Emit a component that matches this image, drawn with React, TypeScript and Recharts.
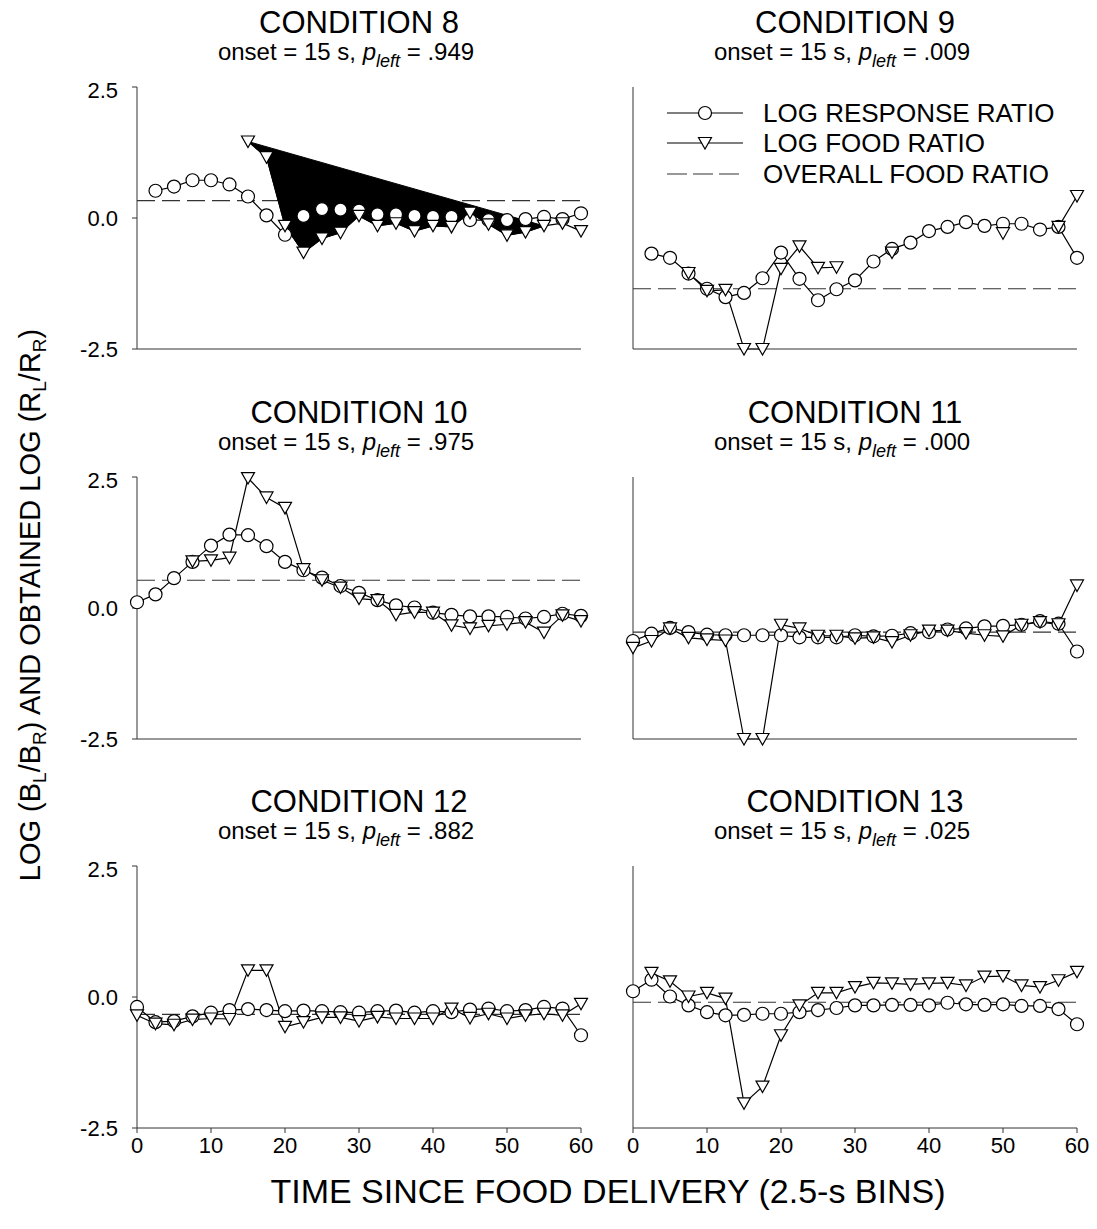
import React from 'react'
import { LineChart, Line, XAxis, YAxis, ReferenceLine } from 'recharts'

// time since food delivery, 2.5-s bins
const bins = [0, 2.5, 5, 7.5, 10, 12.5, 15, 17.5, 20, 22.5, 25, 27.5, 30, 32.5, 35, 37.5, 40, 42.5, 45, 47.5, 50, 52.5, 55, 57.5, 60]

const titles = ['CONDITION 8', 'CONDITION 9', 'CONDITION 10', 'CONDITION 11', 'CONDITION 12', 'CONDITION 13']
const onsets = ['15', '15', '15', '15', '15', '15']
const pLeft = ['.949', '.009', '.975', '.000', '.882', '.025']
const overallFoodRatio = [0.33, -1.35, 0.53, -0.46, -0.33, -0.1]

const response8 = [null, 0.52, 0.6, 0.72, 0.72, 0.64, 0.41, 0.05, -0.32, 0.04, 0.17, 0.16, 0.14, 0.07, 0.07, 0.04, 0.02, 0.02, -0.04, -0.04, -0.04, -0.02, 0.02, -0.02, 0.09]
const food8 = [null, null, null, null, null, null, 1.46, 1.16, -0.15, -0.66, -0.39, -0.28, 0.04, -0.15, -0.1, -0.25, -0.15, -0.17, 0.1, -0.12, -0.33, -0.27, -0.15, -0.1, -0.25]

const response9 = [null, -0.68, -0.76, -1.06, -1.35, -1.51, -1.43, -1.15, -0.66, -1.16, -1.57, -1.36, -1.19, -0.83, -0.59, -0.47, -0.25, -0.17, -0.08, -0.15, -0.11, -0.11, -0.22, -0.17, -0.76]
const food9 = [null, null, null, -1.05, -1.39, -1.37, -2.5, -2.5, -0.97, -0.54, -0.95, -0.94, null, null, -0.66, null, null, null, null, null, -0.29, null, null, -0.17, 0.42]

const response10 = [0.11, 0.26, 0.57, 0.88, 1.19, 1.4, 1.39, 1.18, 0.88, 0.72, 0.58, 0.42, 0.29, 0.15, 0.05, 0.01, -0.09, -0.13, -0.16, -0.16, -0.17, -0.2, -0.17, -0.11, -0.15]
const food10 = [null, null, null, 0.89, 0.91, 0.96, 2.48, 2.11, 1.91, 0.74, 0.53, 0.39, 0.18, 0.15, -0.13, -0.08, -0.09, -0.33, -0.39, -0.34, -0.31, -0.27, -0.47, -0.14, -0.25]

const response11 = [-0.63, -0.49, -0.38, -0.46, -0.51, -0.52, -0.52, -0.52, -0.52, -0.56, -0.56, -0.56, -0.52, -0.54, -0.53, -0.48, -0.46, -0.41, -0.39, -0.35, -0.34, -0.32, -0.25, -0.3, -0.83]
const food11 = [-0.76, -0.63, -0.39, -0.57, -0.6, -0.62, -2.5, -2.5, -0.32, -0.39, -0.53, -0.53, -0.58, -0.56, -0.65, -0.52, -0.43, -0.43, -0.48, -0.52, -0.54, -0.32, -0.27, -0.31, 0.43]

const response12 = [-0.19, -0.48, -0.46, -0.37, -0.3, -0.25, -0.23, -0.25, -0.27, -0.26, -0.27, -0.29, -0.3, -0.27, -0.26, -0.3, -0.27, -0.29, -0.24, -0.22, -0.27, -0.25, -0.19, -0.22, -0.73]
const food12 = [-0.35, -0.51, -0.53, -0.43, -0.41, -0.42, 0.51, 0.51, -0.57, -0.48, -0.39, -0.39, -0.46, -0.38, -0.41, -0.41, -0.41, -0.22, -0.4, -0.32, -0.41, -0.35, -0.32, -0.35, -0.13]

const response13 = [0.11, 0.33, 0.01, -0.16, -0.29, -0.35, -0.34, -0.32, -0.32, -0.29, -0.25, -0.21, -0.16, -0.16, -0.15, -0.15, -0.16, -0.11, -0.14, -0.15, -0.14, -0.17, -0.17, -0.23, -0.52]
const food13 = [null, 0.46, 0.3, 0.01, 0.08, -0.03, -2.03, -1.71, -0.73, -0.16, 0.08, 0.08, 0.19, 0.27, 0.26, 0.24, 0.26, 0.27, 0.22, 0.39, 0.4, 0.22, 0.19, 0.32, 0.48]

const responseRatios = [response8, response9, response10, response11, response12, response13]
const foodRatios = [food8, food9, food10, food11, food12, food13]

// black band drawn over condition 8 (bins 15..55 of the food ratio)
const fillPanel = 0
const fillFrom = 15
const fillTo = 55

const xTicks = [0, 10, 20, 30, 40, 50, 60]
const yTicks = [-2.5, 0, 2.5]

const FONT = '"Liberation Sans", Arial, Helvetica, sans-serif'
const PLOT_W = 444
const PLOT_H = 262
const colX = [137, 633]
const rowY = [87, 476.5, 866]
const Y_AXIS_W = 70
const X_AXIS_H = 40
const M_TOP = 10
const M_RIGHT = 12
const AXIS = '#333'

const CircleDot = (props: any) => {
  const { cx, cy, index } = props
  if (cx == null || cy == null || props.value == null) return <g key={`c${index}`} />
  return <circle key={`c${index}`} cx={cx} cy={cy} r={6.5} fill='#fff' stroke='#000' strokeWidth={1.2} />
}

const TriangleDot = (props: any) => {
  const { cx, cy, index } = props
  if (cx == null || cy == null || props.value == null) return <g key={`t${index}`} />
  const pts = `${cx - 6.5},${cy - 5.5} ${cx + 6.5},${cy - 5.5} ${cx},${cy + 6}`
  return <polygon key={`t${index}`} points={pts} fill='#fff' stroke='#000' strokeWidth={1.2} />
}

const FillDot = (props: any) => {
  const { index, points, payload } = props
  if (!points || !payload || payload.t !== fillFrom) return <g key={`f${index}`} />
  const pts = points.filter((p: any) => p.y != null && p.value != null && p.payload.t >= fillFrom && p.payload.t <= fillTo)
  return <polygon key='fill' points={pts.map((p: any) => `${p.x},${p.y}`).join(' ')} fill='#000' stroke='#000' />
}

const Panel = ({ idx }: { idx: number }) => {
  const col = idx % 2
  const row = Math.floor(idx / 2)
  const rows = bins.map((t, i) => ({ t, response: responseRatios[idx][i], food: foodRatios[idx][i] }))
  const tickStyle = { fill: '#000', fontSize: 22, fontFamily: FONT }
  return (
    <div style={{ position: 'absolute', left: colX[col] - Y_AXIS_W, top: rowY[row] - M_TOP }}>
      <LineChart width={Y_AXIS_W + PLOT_W + M_RIGHT} height={M_TOP + PLOT_H + X_AXIS_H} data={rows}
        margin={{ top: M_TOP, right: M_RIGHT, bottom: 0, left: 0 }}>
        <XAxis dataKey='t' type='number' domain={[0, 60]} ticks={xTicks} height={X_AXIS_H}
          tick={row === 2 ? tickStyle : false} tickSize={5} tickMargin={4}
          axisLine={{ stroke: AXIS }} tickLine={{ stroke: AXIS }} />
        <YAxis type='number' domain={[-2.5, 2.5]} ticks={yTicks} width={Y_AXIS_W}
          tickFormatter={(v: number) => v.toFixed(1)}
          tick={col === 0 ? tickStyle : false} tickSize={5} tickMargin={14}
          axisLine={{ stroke: AXIS }} tickLine={{ stroke: AXIS }} />
        <ReferenceLine y={overallFoodRatio[idx]} stroke='#333' strokeWidth={1.2} strokeDasharray='18 7' />
        {idx === fillPanel && (
          <Line dataKey='food' stroke='none' dot={FillDot} activeDot={false} isAnimationActive={false} />
        )}
        <Line dataKey='response' type='linear' stroke='#000' strokeWidth={1.2} dot={CircleDot}
          activeDot={false} isAnimationActive={false} />
        <Line dataKey='food' type='linear' stroke='#000' strokeWidth={1.2} dot={TriangleDot}
          activeDot={false} isAnimationActive={false} />
      </LineChart>
    </div>
  )
}

const Legend = () => {
  const y = [113, 143, 174]
  const labels = ['LOG RESPONSE RATIO', 'LOG FOOD RATIO', 'OVERALL FOOD RATIO']
  return (
    <svg width={1097} height={1229} style={{ position: 'absolute', left: 0, top: 0, pointerEvents: 'none' }}>
      <line x1={667} x2={743} y1={y[0]} y2={y[0]} stroke='#000' strokeWidth={1.2} />
      <circle cx={705} cy={y[0]} r={6.5} fill='#fff' stroke='#000' strokeWidth={1.2} />
      <line x1={667} x2={743} y1={y[1]} y2={y[1]} stroke='#000' strokeWidth={1.2} />
      <polygon points={`698.5,${y[1] - 5.5} 711.5,${y[1] - 5.5} 705,${y[1] + 6}`} fill='#fff' stroke='#000' strokeWidth={1.2} />
      <line x1={667} x2={739} y1={y[2]} y2={y[2]} stroke='#333' strokeWidth={1.2} strokeDasharray='20 6' />
      {labels.map((l, i) => (
        <text key={l} x={763} y={y[i]} dy='0.36em' fontSize={26} fontFamily={FONT} fill='#000'>{l}</text>
      ))}
    </svg>
  )
}

const sub = (s: string, size: number, shift: number) => (
  <span style={{ fontSize: size, verticalAlign: `-${shift}px` }}>{s}</span>
)

export default function App() {
  return (
    <div style={{ position: 'absolute', left: 0, top: 0, width: 1097, height: 1229, background: '#fff', fontFamily: FONT, color: '#000' }}>
      {titles.map((title, idx) => {
        const col = idx % 2
        const row = Math.floor(idx / 2)
        const cx = colX[col] + PLOT_W / 2
        const dy = rowY[row] - rowY[0]
        return (
          <React.Fragment key={title}>
            <div style={{ position: 'absolute', left: cx - 250, width: 500, top: 7 + dy, textAlign: 'center', fontSize: 31, lineHeight: '31px', whiteSpace: 'nowrap' }}>
              {title}
            </div>
            <div style={{ position: 'absolute', left: cx - 263, width: 500, top: 40 + dy, textAlign: 'center', fontSize: 24, lineHeight: '24px', whiteSpace: 'nowrap' }}>
              onset = {onsets[idx]} s, <i>p</i><i style={{ fontSize: 18, verticalAlign: '-7px' }}>left</i> = {pLeft[idx]}
            </div>
          </React.Fragment>
        )
      })}
      {titles.map((_, idx) => <Panel key={idx} idx={idx} />)}
      <Legend />
      <div style={{ position: 'absolute', left: 30 - 400, top: 605 - 15, width: 800, height: 30, lineHeight: '30px', textAlign: 'center', fontSize: 29, transform: 'rotate(-90deg)', whiteSpace: 'nowrap' }}>
        LOG (B{sub('L', 19, 6)}/B{sub('R', 19, 6)}) AND OBTAINED LOG (R{sub('L', 19, 6)}/R{sub('R', 19, 6)})
      </div>
      <div style={{ position: 'absolute', left: 608 - 500, width: 1000, top: 1174, textAlign: 'center', fontSize: 34, lineHeight: '34px', whiteSpace: 'nowrap' }}>
        TIME SINCE FOOD DELIVERY (2.5-s BINS)
      </div>
    </div>
  )
}
